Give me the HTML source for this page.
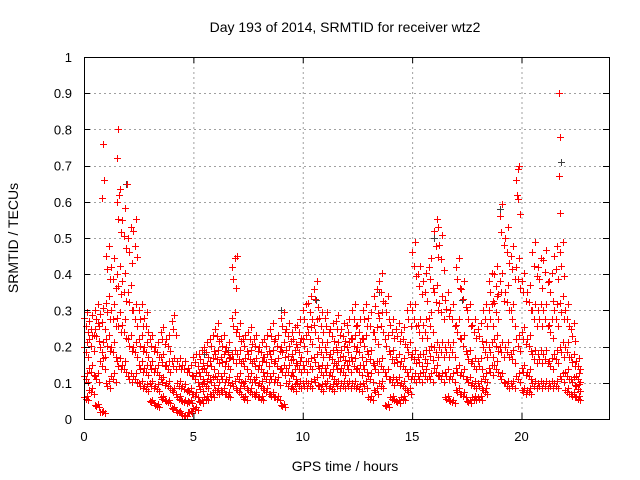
<!DOCTYPE html>
<html><head><meta charset="utf-8"><style>
html,body{margin:0;padding:0;background:#fff}
svg{display:block;font-family:"Liberation Sans",sans-serif}
</style></head><body>
<svg id="chart" width="640" height="480" viewBox="0 0 640 480"></svg>
<script>
const hourStart = 0, hourStep = 0.25;
const seriesHigh = [0.28,0.27,0.3,0.29, 0.45,0.42,0.6,0.55, 0.5,0.52,0.3,0.28, 0.22,0.2,0.24,0.22, 0.27,0.16,0.15,0.14, 0.17,0.18,0.2,0.22, 0.25,0.22,0.2,0.42, 0.25,0.22,0.24,0.22, 0.2,0.22,0.25,0.22, 0.28,0.25,0.24,0.26, 0.3,0.32,0.36,0.28, 0.28,0.25,0.27,0.25, 0.26,0.3,0.26,0.3, 0.28,0.34,0.38,0.32, 0.26,0.25,0.24,0.3, 0.46,0.4,0.38,0.42, 0.52,0.48,0.33,0.3, 0.42,0.36,0.3,0.26, 0.25,0.3,0.38,0.4, 0.56,0.5,0.45,0.66, 0.38,0.35,0.46,0.42, 0.44,0.38,0.45,0.46, 0.3,0.25,0.16];
const seriesUpperMid = [0.2,0.22,0.25,0.2, 0.32,0.3,0.4,0.38, 0.35,0.3,0.22,0.2, 0.15,0.14,0.17,0.15, 0.16,0.1,0.09,0.08, 0.12,0.13,0.14,0.16, 0.18,0.17,0.16,0.28, 0.18,0.16,0.18,0.16, 0.15,0.17,0.18,0.16, 0.2,0.19,0.18,0.2, 0.22,0.24,0.26,0.2, 0.2,0.18,0.2,0.19, 0.2,0.22,0.2,0.22, 0.18,0.24,0.28,0.22, 0.18,0.17,0.16,0.2, 0.3,0.26,0.26,0.28, 0.35,0.32,0.2,0.2, 0.26,0.22,0.18,0.16, 0.16,0.2,0.3,0.32, 0.38,0.35,0.3,0.42, 0.24,0.22,0.3,0.3, 0.3,0.26,0.3,0.32, 0.2,0.17,0.12];
const seriesLowerMid = [0.12,0.14,0.12,0.16, 0.22,0.2,0.28,0.26, 0.22,0.2,0.15,0.14, 0.1,0.09,0.11,0.1, 0.08,0.06,0.05,0.05, 0.07,0.09,0.1,0.11, 0.12,0.12,0.11,0.18, 0.12,0.1,0.12,0.11, 0.1,0.12,0.12,0.11, 0.14,0.14,0.13,0.15, 0.15,0.16,0.17,0.14, 0.14,0.13,0.15,0.14, 0.15,0.16,0.14,0.15, 0.12,0.15,0.16,0.13, 0.11,0.11,0.1,0.13, 0.18,0.17,0.18,0.19, 0.2,0.2,0.13,0.12, 0.14,0.13,0.11,0.1, 0.1,0.12,0.2,0.22, 0.2,0.2,0.18,0.22, 0.14,0.13,0.18,0.18, 0.18,0.16,0.18,0.2, 0.13,0.11,0.09];
const seriesLow = [0.06,0.08,0.04,0.02, 0.1,0.12,0.16,0.15, 0.12,0.12,0.1,0.09, 0.05,0.04,0.06,0.05, 0.03,0.02,0.01,0.02, 0.03,0.05,0.06,0.07, 0.08,0.08,0.07,0.1, 0.08,0.06,0.08,0.07, 0.06,0.08,0.07,0.06, 0.04,0.1,0.09,0.1, 0.1,0.1,0.11,0.09, 0.1,0.09,0.1,0.1, 0.1,0.1,0.09,0.1, 0.06,0.08,0.1,0.04, 0.06,0.05,0.06,0.08, 0.12,0.12,0.13,0.12, 0.14,0.12,0.06,0.05, 0.08,0.07,0.05,0.06, 0.06,0.08,0.14,0.15, 0.12,0.1,0.1,0.12, 0.08,0.08,0.1,0.1, 0.1,0.1,0.1,0.12, 0.08,0.07,0.06];
const spikeHours = [0.85,0.9,0.8,1.55,1.5,1.6,1.95,7.0,16.2,19.85,19.8,21.7,21.75,21.7,21.75];
const spikeValues = [0.76,0.66,0.61,0.8,0.72,0.62,0.65,0.45,0.53,0.69,0.62,0.9,0.78,0.67,0.57];
const grayHours = [1.9,5.5,6.6,9.0,10.6,13.5,16.0,17.3,19.0,21.75,21.8];
const grayValues = [0.65,0.18,0.19,0.3,0.33,0.35,0.5,0.33,0.58,0.78,0.71];
const xTicks = [0,5,10,15,20];
const yTicks = [0,0.1,0.2,0.3,0.4,0.5,0.6,0.7,0.8,0.9,1];
const yTickLabels = ["0","0.1","0.2","0.3","0.4","0.5","0.6","0.7","0.8","0.9","1"];

const L=84,R=609,T=57,B=419,X0=0,X1=24;
const sx=v=>L+(v-X0)/(X1-X0)*(R-L);
const sy=v=>B-v*(B-T);
const svg=document.getElementById('chart');
const NS='http://www.w3.org/2000/svg';
function mk(tag,attrs,parent){const e=document.createElementNS(NS,tag);for(const k in attrs)e.setAttribute(k,attrs[k]);(parent||svg).appendChild(e);return e;}

const grid=mk('g',{stroke:'#a0a0a0','stroke-width':1,'stroke-dasharray':'2,3'});


xTicks.forEach(v=>{if(v>X0)mk('line',{x1:sx(v)+0.5,x2:sx(v)+0.5,y1:T,y2:B},grid);});
yTicks.forEach(v=>{if(v>0&&v<1)mk('line',{x1:L,x2:R,y1:Math.round(sy(v))+0.5,y2:Math.round(sy(v))+0.5},grid);});

function cross(x,y,g){const px=Math.round(sx(x))+0.5,py=Math.round(sy(y))+0.5;mk('path',{d:`M${px-3.5} ${py}H${px+3.5}M${px} ${py-3.5}V${py+3.5}`},g);}

const gpts=mk('g',{stroke:'#404040','stroke-width':1,fill:'none'});


grayHours.forEach((h,i)=>cross(h,grayValues[i],gpts));

const pts=mk('g',{stroke:'#ff0000','stroke-width':1,fill:'none'});


const dx=[0,0.07,0.13,0.19], fy=[1,0.92,1.06,0.86];
[seriesHigh,seriesUpperMid,seriesLowerMid,seriesLow].forEach((s,j)=>{
  s.forEach((v,i)=>{for(let k=0;k<4;k++){cross(hourStart+i*hourStep+dx[(k+j)%4],v*fy[(k+j)%4],pts);}});
});
spikeHours.forEach((h,i)=>cross(h,spikeValues[i],pts));

const ax=mk('g',{stroke:'#000','stroke-width':1,fill:'none'});


mk('rect',{x:L+0.5,y:T+0.5,width:R-L,height:B-T},ax);
xTicks.forEach(v=>{const x=sx(v)+0.5;mk('line',{x1:x,x2:x,y1:B,y2:B-6},ax);mk('line',{x1:x,x2:x,y1:T,y2:T+6},ax);});
yTicks.forEach(v=>{const y=Math.round(sy(v))+0.5;mk('line',{x1:L,x2:L+6,y1:y,y2:y},ax);mk('line',{x1:R,x2:R-6,y1:y,y2:y},ax);});

const tl=mk('g',{fill:'#000','font-size':13});


xTicks.forEach(v=>{const t=mk('text',{x:sx(v),y:B+22,'text-anchor':'middle'},tl);t.textContent=String(v);});
yTicks.forEach((v,i)=>{const t=mk('text',{x:L-12,y:sy(v)+5,'text-anchor':'end'},tl);t.textContent=yTickLabels[i];});

const title=mk('text',{x:345,y:32,'text-anchor':'middle','font-size':14,fill:'#000'});


title.textContent='Day 193 of 2014, SRMTID for receiver wtz2';
const xt=mk('text',{x:345,y:471,'text-anchor':'middle','font-size':14,fill:'#000'});


xt.textContent='GPS time / hours';
const yt=mk('text',{x:18,y:238,'text-anchor':'middle','font-size':14,fill:'#000',transform:'rotate(-90 18 238)'});


yt.textContent='SRMTID / TECUs';
</script>
</body></html>
